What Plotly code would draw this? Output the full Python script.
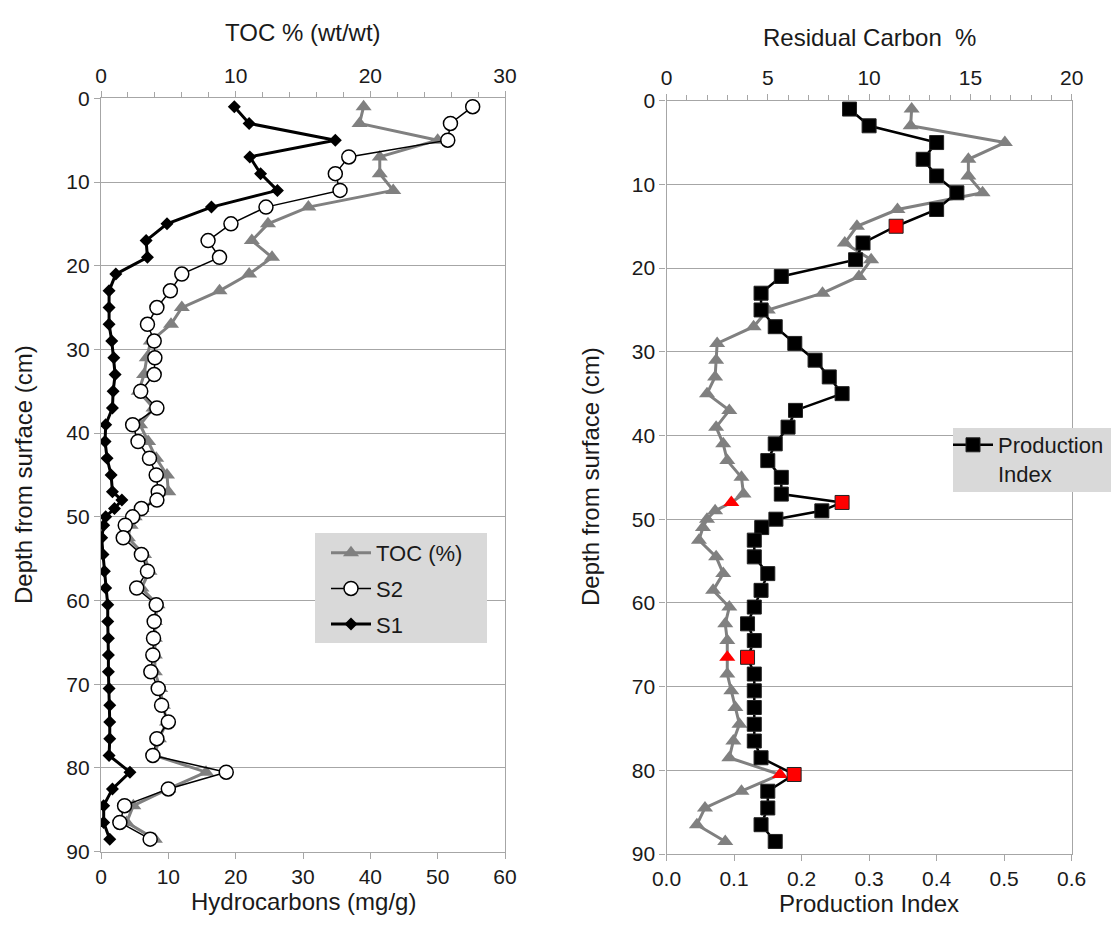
import plotly.graph_objects as go

# ---------------- data ----------------
depth_cm = [1, 3, 5, 7, 9, 11, 13, 15, 17, 19, 21, 23, 25, 27, 29, 31, 33, 35, 37, 39, 41, 43, 45, 47,
            48, 49, 50, 51,
            52.5, 54.5, 56.5, 58.5, 60.5, 62.5, 64.5, 66.5, 68.5, 70.5, 72.5, 74.5, 76.5, 78.5,
            80.5, 82.5, 84.5, 86.5, 88.5]

toc_pct = [19.5, 19.2, 25.0, 20.7, 20.7, 21.7, 15.4, 12.4, 11.2, 12.7, 11.0, 8.8, 6.0, 5.2, 3.7, 3.4,
           3.2, 2.8, 3.9, 2.9, 3.5, 4.1, 4.9, 5.0,
           4.1, 3.0, 2.5, 2.2,
           2.0, 3.2, 3.6, 3.0, 4.2, 4.0, 4.0, 4.0, 4.0, 4.4, 4.6, 4.9, 4.3, 4.0,
           7.8, 5.0, 2.4, 1.9, 4.0]

s2_mg_g = [55.2, 51.9, 51.5, 36.8, 34.8, 35.5, 24.5, 19.3, 15.9, 17.6, 12.0, 10.3, 8.3, 6.9, 7.9, 8.0,
           7.9, 5.9, 8.3, 4.7, 5.5, 7.2, 8.2, 8.5,
           8.3, 6.0, 4.7, 3.6,
           3.3, 6.0, 6.9, 5.3, 8.2, 7.9, 7.8, 7.7, 7.4, 8.5, 9.0, 10.0, 8.3, 7.7,
           18.6, 10.0, 3.5, 2.8, 7.3]

s1_mg_g = [19.8, 22.0, 34.8, 22.1, 23.7, 26.2, 16.4, 9.8, 6.7, 6.9, 2.2, 1.2, 1.2, 1.2, 1.6, 1.9,
           2.1, 1.8, 1.7, 0.7, 0.6, 0.9, 1.5, 1.7,
           3.1, 2.0, 0.7, 0.4,
           0.1, 0.3, 0.5, 0.7, 1.0, 1.0, 1.1, 1.1, 1.1, 1.2, 1.3, 1.3, 1.3, 1.2,
           4.3, 1.7, 0.4, 0.4, 1.3]

residual_carbon_pct = [12.1, 12.05, 16.7, 14.9, 14.9, 15.6, 11.4, 9.4, 8.8, 10.1, 9.5, 7.7, 5.0, 4.3,
                       2.5, 2.45, 2.4, 2.0, 3.1, 2.45, 2.8, 3.0, 3.7, 3.8,
                       3.2, 2.4, 2.0, 1.8,
                       1.6, 2.45, 2.8, 2.3, 3.1, 2.9, 3.0, 3.0, 3.0, 3.2, 3.4, 3.6, 3.3, 3.1,
                       5.6, 3.7, 1.9, 1.5, 2.9]

production_index = [0.271, 0.300, 0.400, 0.380, 0.400, 0.430, 0.400, 0.340, 0.291, 0.280, 0.170,
                    0.140, 0.140, 0.161, 0.190, 0.220, 0.241, 0.260, 0.191, 0.180, 0.161, 0.150,
                    0.170, 0.170,
                    0.260, 0.230, 0.162, 0.141,
                    0.130, 0.130, 0.150, 0.140, 0.130, 0.120, 0.130, 0.120, 0.130, 0.130, 0.130,
                    0.130, 0.130, 0.140, 0.189, 0.150, 0.150, 0.140, 0.161]

highlight_pi_depths = [15, 48, 66.5, 80.5]
highlight_rc_depths = [48, 66.5, 80.5]

# ---------------- styling ----------------
FONT = "Liberation Sans, Arial, sans-serif"
TXT = "#1a1a1a"
AX = "#a6a6a6"
GREY = "#808080"
OFF = 8                      # page body margin in the browser
FW, FH = 1119 - 2 * OFF, 926 - 2 * OFF
TICK_SIZE = 21
TITLE_SIZE = 24
LEG_SIZE = 22


def px(x):
    return (x - OFF) / FW


def py(y):
    return 1 - (y - OFF) / FH


pi_colors = ["#ff0000" if d in highlight_pi_depths else "#000000" for d in depth_cm]
rc_colors = ["#ff0000" if d in highlight_rc_depths else GREY for d in depth_cm]

fig = go.Figure()

fig.add_trace(go.Scatter(
    x=toc_pct, y=depth_cm, name="TOC (%)", mode="lines+markers",
    xaxis="x", yaxis="y", legend="legend", legendgroup="a",
    line=dict(color=GREY, width=3),
    marker=dict(symbol="triangle-up", size=14, color=GREY)))
fig.add_trace(go.Scatter(
    x=s2_mg_g, y=depth_cm, name="S2", mode="lines+markers",
    xaxis="x2", yaxis="y", legend="legend", legendgroup="b",
    line=dict(color="#000000", width=1.5),
    marker=dict(symbol="circle", size=14, color="#ffffff", line=dict(color="#000000", width=1.5))))
fig.add_trace(go.Scatter(
    x=s1_mg_g, y=depth_cm, name="S1", mode="lines+markers",
    xaxis="x2", yaxis="y", legend="legend", legendgroup="c",
    line=dict(color="#000000", width=3),
    marker=dict(symbol="diamond", size=10, color="#000000")))

fig.add_trace(go.Scatter(
    x=residual_carbon_pct, y=depth_cm, name="Residual Carbon", mode="lines+markers",
    xaxis="x3", yaxis="y2", showlegend=False,
    line=dict(color=GREY, width=3),
    marker=dict(symbol="triangle-up", size=14, color=rc_colors)))
fig.add_trace(go.Scatter(
    x=production_index, y=depth_cm, name="Production<br>Index", mode="lines+markers",
    xaxis="x4", yaxis="y2", legend="legend2",
    line=dict(color="#000000", width=2.5),
    marker=dict(symbol="square", size=14, color=pi_colors, line=dict(color="#222222", width=1))))

tickfont = dict(family=FONT, size=TICK_SIZE, color=TXT)

left_dom = [px(101), px(505)]
right_dom = [px(666.5), px(1071.7)]
left_ydom = [py(851.7), py(98.3)]
right_ydom = [py(854), py(100.7)]

common_x = dict(showgrid=False, zeroline=False, showline=True, linecolor=AX, linewidth=1.2,
                ticks="outside", ticklen=6, tickcolor=AX, tickfont=tickfont, automargin=False)
common_y = dict(range=[90, 0], dtick=10, showgrid=True, gridcolor=AX, gridwidth=1.2,
                zeroline=False, showline=True, mirror=True, linecolor=AX, linewidth=1.2,
                ticks="outside", ticklen=6, tickcolor=AX, tickfont=tickfont, automargin=False)

title_font = dict(family=FONT, size=TITLE_SIZE, color=TXT)


def title(text, x, y, angle=0):
    return dict(text=text, x=px(x), y=py(y), xref="paper", yref="paper", showarrow=False,
                xanchor="center", yanchor="middle", textangle=angle, font=title_font)


fig.update_layout(
    width=FW, height=FH, margin=dict(l=0, r=0, t=0, b=0, autoexpand=False),
    paper_bgcolor="#ffffff", plot_bgcolor="#ffffff",
    font=dict(family=FONT, color=TXT),
    xaxis=dict(common_x, domain=left_dom, anchor="y", side="top", range=[0, 30], dtick=10,
               minor=dict(dtick=2, ticks="outside", ticklen=5, tickcolor=AX)),
    xaxis2=dict(common_x, domain=left_dom, anchor="y", side="bottom", overlaying="x",
                range=[0, 60], dtick=10),
    yaxis=dict(common_y, domain=left_ydom, anchor="x"),
    xaxis3=dict(common_x, domain=right_dom, anchor="y2", side="top", range=[0, 20], dtick=5,
                minor=dict(dtick=1, ticks="outside", ticklen=5, tickcolor=AX)),
    xaxis4=dict(common_x, domain=right_dom, anchor="y2", side="bottom", overlaying="x3",
                range=[0, 0.6], dtick=0.1, tickformat=".1f"),
    yaxis2=dict(common_y, domain=right_ydom, anchor="x3"),
    legend=dict(x=px(326), y=py(532), xanchor="left", yanchor="top", itemwidth=40,
                bgcolor="rgba(0,0,0,0)", font=dict(family=FONT, size=LEG_SIZE, color=TXT),
                tracegroupgap=4, traceorder="grouped"),
    legend2=dict(x=px(948), y=py(424), xanchor="left", yanchor="top", valign="top",
                 itemwidth=40,
                 bgcolor="rgba(0,0,0,0)", font=dict(family=FONT, size=LEG_SIZE, color=TXT)),
    shapes=[
        dict(type="rect", xref="paper", yref="paper", x0=px(315), x1=px(487),
             y0=py(643), y1=py(533), fillcolor="#d9d9d9", line=dict(width=0),
             layer="above"),
        dict(type="rect", xref="paper", yref="paper", x0=px(953), x1=px(1115),
             y0=py(492), y1=py(428), fillcolor="#d9d9d9", line=dict(width=0),
             layer="above"),
    ],
    annotations=[
        title("TOC % (wt/wt)", 303, 32),
        title("Hydrocarbons (mg/g)", 303, 901),
        title("Depth from surface (cm)", 24, 475, -90),
        title("Residual Carbon  %", 869, 38),
        title("Production Index", 869, 903),
        title("Depth from surface (cm)", 591, 477, -90),
    ],
)

fig.write_html("out.html")
